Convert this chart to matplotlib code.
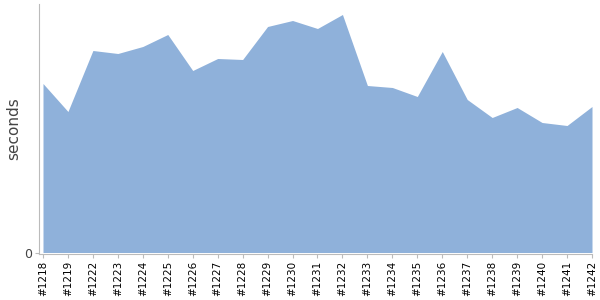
import matplotlib
matplotlib.use("Agg")
import matplotlib.pyplot as plt
import numpy as np

builds = ["#1218", "#1219", "#1222", "#1223", "#1224", "#1225", "#1226", "#1227",
          "#1228", "#1229", "#1230", "#1231", "#1232", "#1233", "#1234", "#1235",
          "#1236", "#1237", "#1238", "#1239", "#1240", "#1241", "#1242"]
durations = [169, 141, 202, 199, 206, 218, 182, 194, 193, 226, 232, 224, 238,
             167, 165, 156, 201, 153, 135, 145, 130, 127, 146]

fill_color = "#8fb1da"
axis_color = "#bbbbbb"

fig = plt.figure(figsize=(6, 3), dpi=100)
ax = fig.add_axes([39.5 / 600, 46 / 300, (592 - 39.5) / 600, (254 - 4) / 300])

x = np.arange(len(builds))
ax.fill_between(x, 0, durations, color=fill_color, linewidth=0)

ax.set_xlim(-0.14, len(builds) - 1)
ax.set_ylim(-1.5, 248.5)

ax.set_xticks(x)
ax.set_xticklabels(builds, rotation=90, fontsize=7.5, color="black")
ax.set_yticks([0])
ax.set_yticklabels(["0"], fontsize=9, color="#444444")
ax.tick_params(axis="x", length=3, color=axis_color, pad=2)
ax.tick_params(axis="y", length=3, color=axis_color, pad=2)

for side in ("top", "right"):
    ax.spines[side].set_visible(False)
for side in ("left", "bottom"):
    ax.spines[side].set_color(axis_color)

ax.set_ylabel("seconds", fontsize=11, color="#444444", labelpad=8)
ax.yaxis.set_label_coords(-13 / 552.5 - 0.01, 0.5)

fig.savefig("out.png", dpi=100)
